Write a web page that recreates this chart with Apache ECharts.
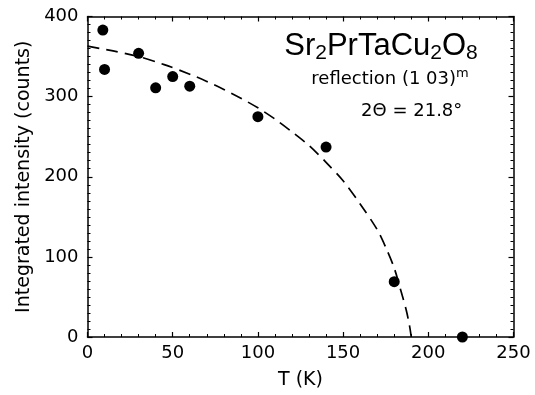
<!DOCTYPE html>
<html>
<head>
<meta charset="utf-8">
<script src="https://cdn.jsdelivr.net/npm/echarts@6/dist/echarts.min.js"></script>
<style>html,body{margin:0;padding:0;background:#fff}#c{width:535px;height:395px}</style>
</head>
<body>
<div id="c"></div>
<script>
// Measured points: [T (K), integrated intensity (counts)]
var measured = [[9,383],[10,334],[30,354],[40,311],[50,325],[60,313],[100,275],[140,237],[180,69],[220,0]];
// Dashed guide curve
var fitCurve = [[0,363],[15,357],[30,350],[45,340],[60,328],[70,319],[80,309],[90,298],[100,286],[110,272],[120,256],[130,239],[140,218],[150,195],[160,166],[170,134],[175,112],[180,86],[184,57],[187,34],[189,14],[190,0]];
var xTicks = [0,50,100,150,200,250];
var yTicks = [0,100,200,300,400];

var FONT = '"DejaVu Sans", Verdana, sans-serif';
var TFONT = '"Liberation Sans", Arial, Helvetica, sans-serif';
var chart = echarts.init(document.getElementById('c'), null, {renderer:'canvas'});

function axisCommon(show) {
  return {
    axisLine:{show:true, onZero:false, lineStyle:{color:'#000', width:1.5}},
    axisTick:{show:true, inside:true, length:5, lineStyle:{color:'#000', width:1.2}},
    minorTick:{show:true, length:3, lineStyle:{color:'#000', width:1}},
    splitLine:{show:false},
    axisLabel:{show:show, color:'#000', fontSize:18, fontFamily:FONT}
  };
}

var xBottom = Object.assign(axisCommon(true), {
  type:'value', position:'bottom', min:xTicks[0], max:xTicks[xTicks.length-1], interval:50,
  name:'T (K)', nameLocation:'middle', nameGap:34,
  nameTextStyle:{color:'#000', fontSize:19, fontFamily:FONT}
});
xBottom.axisLabel.margin = 7;
xBottom.minorTick.splitNumber = 5;
var xTop = Object.assign(axisCommon(false), {
  type:'value', position:'top', min:xTicks[0], max:xTicks[xTicks.length-1], interval:50
});
xTop.minorTick.splitNumber = 5;

var yLeft = Object.assign(axisCommon(true), {
  type:'value', position:'left', min:yTicks[0], max:yTicks[yTicks.length-1], interval:100,
  name:'Integrated intensity (counts)', nameLocation:'middle', nameGap:49,
  nameTextStyle:{color:'#000', fontSize:19, fontFamily:FONT}
});
yLeft.axisLabel.margin = 9;
yLeft.minorTick.splitNumber = 10;
var yRight = Object.assign(axisCommon(false), {
  type:'value', position:'right', min:yTicks[0], max:yTicks[yTicks.length-1], interval:100
});
yRight.minorTick.splitNumber = 10;

chart.setOption({
  animation:false,
  backgroundColor:'#fff',
  grid:{left:87.5, right:21.5, top:16.5, bottom:57, containLabel:false},
  xAxis:[xBottom, xTop],
  yAxis:[yLeft, yRight],
  series:[
    {type:'line', data:fitCurve, xAxisIndex:0, yAxisIndex:0, smooth:0.3, showSymbol:false, symbol:'none',
     lineStyle:{color:'#000', width:1.7, type:[12,7]}, z:2},
    {type:'scatter', data:measured, xAxisIndex:0, yAxisIndex:0, symbol:'circle', symbolSize:11,
     itemStyle:{color:'#000', opacity:1}, z:3}
  ],
  graphic:[
    {type:'text', style:{x:381, y:28, align:'center', verticalAlign:'top',
      text:'{m|Sr}{s|2}{m|PrTaCu}{s|2}{m|O}{s|8}',
      rich:{
        m:{fontSize:31, lineHeight:36, verticalAlign:'middle', fontFamily:TFONT, fill:'#000', color:'#000'},
        s:{fontSize:21, lineHeight:21, verticalAlign:'bottom', fontFamily:TFONT, fill:'#000', color:'#000'}
      }}},
    {type:'text', style:{x:390, y:67, align:'center', verticalAlign:'top',
      text:'{m|reflection (1 03)}{p|m}',
      rich:{
        m:{fontSize:18, lineHeight:24, verticalAlign:'middle', fontFamily:FONT, fill:'#000', color:'#000'},
        p:{fontSize:13, lineHeight:21, verticalAlign:'top', fontFamily:FONT, fill:'#000', color:'#000'}
      }}},
    {type:'text', style:{x:411.7, y:111, align:'center', verticalAlign:'middle',
      text:'2Θ = 21.8°', font:'18px ' + FONT, fill:'#000'}}
  ]
});
</script>
</body>
</html>
